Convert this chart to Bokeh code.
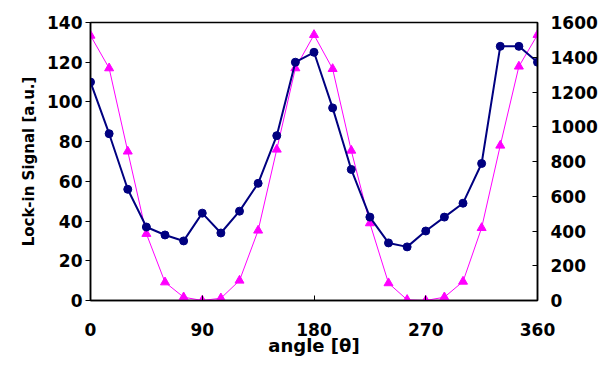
from bokeh.plotting import figure
from bokeh.models import Range1d, LinearAxis, FixedTicker
from bokeh.embed import file_html
from bokeh.resources import INLINE

angle = [0, 15, 30, 45, 60, 75, 90, 105, 120, 135, 150, 165, 180,
         195, 210, 225, 240, 255, 270, 285, 300, 315, 330, 345, 360]
lockin = [110, 84, 56, 37, 33, 30, 44, 34, 45, 59, 83, 120, 125,
          97, 66, 42, 29, 27, 35, 42, 49, 69, 128, 128, 120]
intensity = [1525, 1337, 858, 384, 105, 19, 0, 13, 115, 403, 869, 1337, 1529,
             1333, 863, 445, 100, 4, 0, 19, 109, 418, 892, 1347, 1529]

x_ticks = [0, 90, 180, 270, 360]
left_ticks = [0, 20, 40, 60, 80, 100, 120, 140]
right_ticks = [0, 200, 400, 600, 800, 1000, 1200, 1400, 1600]

FONT = "DejaVu Sans"

p = figure(width=600, height=362, output_backend="svg", toolbar_location=None,
           x_range=Range1d(0, 360), y_range=Range1d(0, 140),
           min_border_left=90, min_border_right=61, min_border_top=22,
           min_border_bottom=62, background_fill_color="white",
           border_fill_color="white")
p.extra_y_ranges = {"right": Range1d(0, 1600)}
p.grid.visible = False
p.outline_line_color = "black"
p.outline_line_width = 1.5

# x axis
xa = p.xaxis[0]
xa.ticker = FixedTicker(ticks=x_ticks)
xa.axis_label = "angle [\u03b8]"
xa.major_tick_in = 5
xa.major_tick_out = 0
xa.minor_tick_line_color = None
xa.major_label_standoff = 22

# left axis
ya = p.yaxis[0]
ya.ticker = FixedTicker(ticks=left_ticks)
ya.axis_label = "Lock-in Signal [a.u.]"
ya.major_tick_in = 0
ya.major_tick_out = 5
ya.minor_tick_line_color = None
ya.major_label_standoff = 3
ya.axis_label_standoff = 6

# right axis
ra = LinearAxis(y_range_name="right", ticker=FixedTicker(ticks=right_ticks))
ra.major_tick_in = 5
ra.major_tick_out = 0
ra.minor_tick_line_color = None
ra.major_label_standoff = 13
p.add_layout(ra, "right")

for ax in [xa, ya, ra]:
    ax.axis_line_color = "black"
    ax.axis_line_width = 1.5
    ax.major_tick_line_color = "black"
    ax.major_label_text_font = FONT
    ax.major_label_text_font_style = "bold"
    ax.major_label_text_font_size = "17px"
    ax.major_label_text_color = "black"
    ax.axis_label_text_font = FONT
    ax.axis_label_text_font_style = "bold"
    ax.axis_label_text_color = "black"

xa.axis_label_text_font_size = "18px"
xa.axis_label_standoff = -4
ya.axis_label_text_font_size = "15px"

p.line(angle, intensity, y_range_name="right", line_color="#FF00FF", line_width=1)
p.scatter(angle, intensity, y_range_name="right", marker="triangle", size=9,
          fill_color="#FF00FF", line_color="#FF00FF")
p.line(angle, lockin, line_color="#000080", line_width=2)
p.scatter(angle, lockin, marker="circle", size=8,
          fill_color="#000080", line_color="#000080")

open("out.html", "w").write(file_html(p, INLINE))
